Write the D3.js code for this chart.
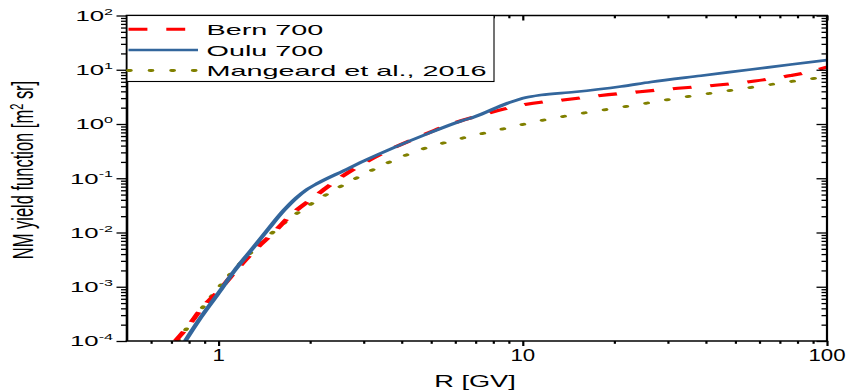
<!DOCTYPE html>
<html>
<head>
<meta charset="utf-8">
<script src="https://cdn.jsdelivr.net/npm/d3@7"></script>
<style>
  body { margin: 0; background: #fff; }
  svg { display: block; }
  text { font-family: "Liberation Sans", Arial, Helvetica, sans-serif; fill: #000; }
</style>
</head>
<body>
<svg id="chart" width="848" height="392"></svg>
<script>
// ---------------- data ----------------
const seriesNames = ["Bern 700", "Oulu 700", "Mangeard et al., 2016"];

const bernR = [0.721, 0.795, 0.877, 1.005, 1.169, 1.300, 1.512, 1.759, 2.062, 2.529, 3.009, 3.690, 4.632, 5.810, 7.627, 10.17, 13.55, 18.06, 24.26, 32.34, 43.77, 57.88, 76.0, 87.1, 100];
const bernY = [1.0e-4, 1.89e-4, 3.89e-4, 8.71e-4, 2.31e-3, 4.43e-3, 9.79e-3, 0.0229, 0.0451, 0.105, 0.191, 0.346, 0.601, 1.00, 1.56, 2.29, 2.77, 3.35, 3.94, 4.55, 5.24, 6.21, 7.83, 9.10, 11.2];

const ouluR = [0.777, 0.858, 1.0, 1.126, 1.281, 1.457, 1.644, 1.80, 1.941, 2.126, 2.587, 3.101, 3.776, 4.883, 6.266, 6.915, 8.943, 10.24, 11.47, 14.73, 21.01, 26.36, 38.48, 56.17, 76.0, 100];
const ouluY = [1.0e-4, 2.34e-4, 7.67e-4, 1.95e-3, 4.75e-3, 0.0116, 0.026, 0.0433, 0.0607, 0.0817, 0.139, 0.226, 0.369, 0.668, 1.135, 1.346, 2.44, 3.08, 3.43, 3.89, 4.91, 5.94, 7.76, 10.1, 12.5, 15.1];

const mangR = [0.734, 0.801, 0.923, 1.074, 1.381, 1.690, 2.094, 2.693, 3.467, 4.517, 6.112, 8.31, 11.41, 15.92, 22.38, 31.45, 43.66, 61.37, 86.2, 100];
const mangY = [1.0e-4, 1.97e-4, 5.53e-4, 1.53e-3, 6.49e-3, 0.0170, 0.0385, 0.0863, 0.175, 0.322, 0.522, 0.775, 1.15, 1.60, 2.15, 2.93, 3.84, 5.08, 6.67, 7.45];

const xDomain = [0.5, 100];
const yDomain = [1e-4, 1e2];
const xTickValues = [1, 10, 100];
const xTickLabels = ["1", "10", "100"];
const yTickExponents = [-4, -3, -2, -1, 0, 1, 2];
const xAxisTitle = "R [GV]";
const yAxisTitle = ["NM yield function [m", "2", " sr]"];

// ---------------- layout ----------------
const L = 127, R = 827, T = 15.5, B = 341;
const K = 1.8;                      // horizontal stretch of the original picture

const svg = d3.select("#chart");
const x = d3.scaleLog().domain(xDomain).range([L, R]);
const xl = d3.scaleLog().domain(xDomain).range([L / K, R / K]);   // local (unstretched) x
const y = d3.scaleLog().domain(yDomain).range([B, T]);

const yMajor = yTickExponents.map(e => Math.pow(10, e));
const yMinor = d3.range(-4, 2).flatMap(k => d3.range(2, 10).map(m => m * Math.pow(10, k)));
const xMinor = d3.range(-1, 2).flatMap(k => d3.range(2, 10).map(m => m * Math.pow(10, k)))
  .filter(v => v > xDomain[0] * 1.01 && v < xDomain[1]);

// clip
svg.append("defs").append("clipPath").attr("id", "clip")
  .append("rect").attr("x", L / K).attr("y", T).attr("width", (R - L) / K).attr("height", B - T);

// ---------------- curves ----------------
const line = d3.line().x(d => xl(d[0])).y(d => y(d[1])).curve(d3.curveMonotoneX);
const series = [
  { name: seriesNames[0], data: d3.zip(bernR, bernY), color: "#ff0000", width: 3.1, dash: "10.5 10.5", cap: "butt" },
  { name: seriesNames[1], data: d3.zip(ouluR, ouluY), color: "#33669c", width: 2.7, dash: null, cap: "butt" },
  { name: seriesNames[2], data: d3.zip(mangR, mangY), color: "#808000", width: 2.8, dash: "1 11", cap: "round" }
];
const plotDraw = [series[2], series[0], series[1]];
const gLines = svg.append("g").attr("transform", `scale(${K},1)`).attr("clip-path", "url(#clip)");
gLines.selectAll("path").data(plotDraw).join("path")
  .attr("d", d => line(d.data))
  .attr("fill", "none")
  .attr("stroke", d => d.color)
  .attr("stroke-width", d => d.width)
  .attr("stroke-dasharray", d => d.dash)
  .attr("stroke-linecap", d => d.cap)
  .attr("stroke-linejoin", "round");

// ---------------- axes ----------------
function styleAxis(g, w) {
  g.select(".domain").remove();
  g.selectAll(".tick line").attr("stroke", "#000").attr("stroke-width", w);
  g.selectAll(".tick text").remove();
}
// left (outward)
svg.append("g").attr("transform", `translate(${L},0)`)
  .call(d3.axisLeft(y).tickValues(yMajor).tickSize(10.5).tickFormat(""))
  .call(g => styleAxis(g, 1.3));
svg.append("g").attr("transform", `translate(${L},0)`)
  .call(d3.axisLeft(y).tickValues(yMinor).tickSize(6).tickFormat(""))
  .call(g => styleAxis(g, 1.3));
// right (inward)
svg.append("g").attr("transform", `translate(${R},0)`)
  .call(d3.axisRight(y).tickValues(yMajor).tickSize(-10.5).tickFormat(""))
  .call(g => styleAxis(g, 1.3));
svg.append("g").attr("transform", `translate(${R},0)`)
  .call(d3.axisRight(y).tickValues(yMinor).tickSize(-5.5).tickFormat(""))
  .call(g => styleAxis(g, 1.3));
// bottom (outward)
svg.append("g").attr("transform", `translate(0,${B})`)
  .call(d3.axisBottom(x).tickValues(xTickValues).tickSize(5).tickFormat(""))
  .call(g => styleAxis(g, 2.2));
svg.append("g").attr("transform", `translate(0,${B})`)
  .call(d3.axisBottom(x).tickValues(xMinor).tickSize(2.8).tickFormat(""))
  .call(g => styleAxis(g, 2.2));
// top (inward)
svg.append("g").attr("transform", `translate(0,${T})`)
  .call(d3.axisTop(x).tickValues(xTickValues).tickSize(-5).tickFormat(""))
  .call(g => styleAxis(g, 2.2));
svg.append("g").attr("transform", `translate(0,${T})`)
  .call(d3.axisTop(x).tickValues(xMinor).tickSize(-2.8).tickFormat(""))
  .call(g => styleAxis(g, 2.2));

// frame lines
const frame = svg.append("g").attr("stroke", "#000");
frame.append("line").attr("x1", L).attr("x2", L).attr("y1", T).attr("y2", B).attr("stroke-width", 2.6);
frame.append("line").attr("x1", R).attr("x2", R).attr("y1", T).attr("y2", B).attr("stroke-width", 2.2);
frame.append("line").attr("x1", L - 1.3).attr("x2", R + 1.1).attr("y1", B).attr("y2", B).attr("stroke-width", 1.5);
frame.append("line").attr("x1", L - 1.3).attr("x2", R + 1.1).attr("y1", T).attr("y2", T).attr("stroke-width", 1.3);

// y tick labels (10^n)
const yLab = svg.append("g");
yTickExponents.forEach(e => {
  const t = yLab.append("g")
    .attr("transform", `translate(113,${y(Math.pow(10, e)) + 5.3}) scale(1.75,1)`)
    .append("text").attr("text-anchor", "end").attr("font-size", 14.7);
  t.append("tspan").text("10");
  t.append("tspan").attr("font-size", 9.2).attr("dy", -6.3).text(String(e));
});

// x tick labels
svg.append("g").selectAll("g").data(xTickValues).join("g")
  .attr("transform", d => `translate(${x(d)},361) scale(1.35,1)`)
  .append("text").attr("text-anchor", "middle").attr("font-size", 16.5)
  .text((d, i) => xTickLabels[i]);

// axis titles
svg.append("g").attr("transform", `translate(${(433 + 517) / 2},386.5) scale(1.6,1)`)
  .append("text").attr("text-anchor", "middle").attr("font-size", 17).text(xAxisTitle);

const yt = svg.append("g").attr("transform", "translate(33,170) rotate(-90) scale(1,1.75)")
  .append("text").attr("text-anchor", "middle").attr("font-size", 16.5);
yt.append("tspan").text(yAxisTitle[0]);
yt.append("tspan").attr("font-size", 11).attr("dy", -6).text(yAxisTitle[1]);
yt.append("tspan").attr("dy", 6).text(yAxisTitle[2]);

// ---------------- legend ----------------
const lg = svg.append("g");
lg.append("rect").attr("x", L).attr("y", T).attr("width", 494 - L).attr("height", 81.5 - T)
  .attr("fill", "#fff").attr("stroke", "#000").attr("stroke-width", 1.1);
const rowsY = [29.3, 50, 70.5];
const lgLines = lg.append("g").attr("transform", `scale(${K},1)`);
series.forEach((s, i) => {
  lgLines.append("line")
    .attr("x1", 128.5 / K).attr("x2", 198 / K).attr("y1", rowsY[i]).attr("y2", rowsY[i])
    .attr("stroke", s.color).attr("stroke-width", s.width)
    .attr("stroke-dasharray", s.dash).attr("stroke-linecap", s.cap);
  lg.append("g").attr("transform", `translate(206.5,${rowsY[i] + 5.6}) scale(1.92,1)`)
    .append("text").attr("font-size", 15).text(s.name);
});
</script>
</body>
</html>
